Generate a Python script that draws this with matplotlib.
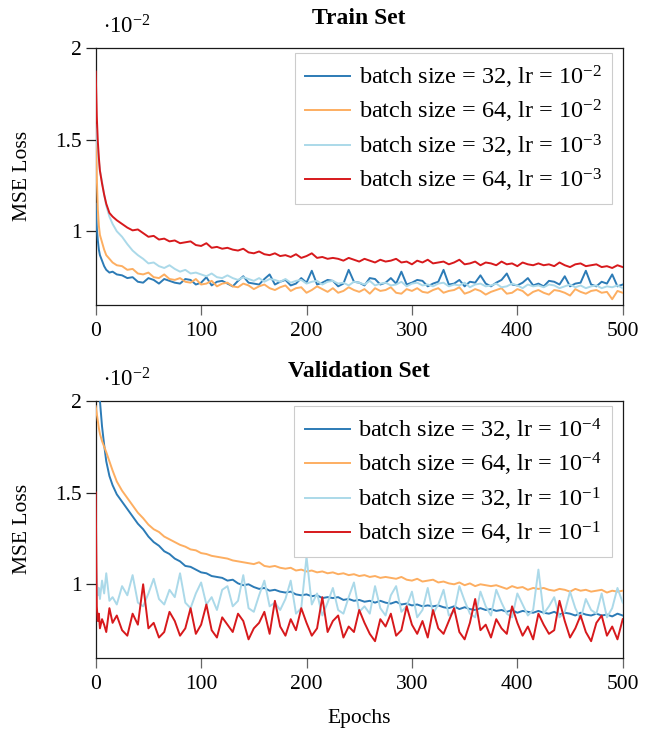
import matplotlib
matplotlib.use('Agg')
from matplotlib import pyplot as plt

plt.rcParams['font.family'] = ['Liberation Serif', 'DejaVu Serif']
plt.rcParams['mathtext.fontset'] = 'custom'
plt.rcParams['mathtext.rm'] = 'Liberation Serif'
plt.rcParams['mathtext.it'] = 'Liberation Serif:italic'
plt.rcParams['mathtext.bf'] = 'Liberation Serif:bold'

epochs = [0, 1, 2, 3, 4, 6, 8, 10, 13, 16, 20] + list(range(25, 501, 5))

# train set, MSE loss in units of 1e-2
train_bs32_lr1e2 = [
    1.15, 1.02, 0.95, 0.90, 0.87, 0.84, 0.81, 0.79, 0.775, 0.78, 0.765,
    0.76, 0.745, 0.75, 0.725, 0.72, 0.745, 0.735, 0.715, 0.74, 0.73,
    0.72, 0.715, 0.74, 0.735, 0.71, 0.72, 0.75, 0.705, 0.725, 0.73,
    0.715, 0.70, 0.73, 0.755, 0.72, 0.715, 0.71, 0.74, 0.765, 0.71,
    0.725, 0.735, 0.705, 0.715, 0.745, 0.72, 0.785, 0.71, 0.72, 0.735,
    0.73, 0.70, 0.715, 0.79, 0.725, 0.72, 0.705, 0.745, 0.74, 0.71,
    0.72, 0.745, 0.715, 0.78, 0.71, 0.72, 0.735, 0.73, 0.70, 0.715,
    0.725, 0.79, 0.71, 0.715, 0.735, 0.70, 0.725, 0.72, 0.76, 0.715,
    0.70, 0.72, 0.735, 0.77, 0.71, 0.705, 0.72, 0.745, 0.705, 0.715,
    0.70, 0.73, 0.725, 0.71, 0.755, 0.70, 0.715, 0.72, 0.785, 0.71,
    0.70, 0.725, 0.715, 0.765, 0.70, 0.71]
train_bs64_lr1e2 = [
    1.55, 1.30, 1.12, 1.03, 0.98, 0.94, 0.90, 0.87, 0.85, 0.83, 0.815,
    0.81, 0.79, 0.795, 0.77, 0.765, 0.775, 0.75, 0.745, 0.765, 0.74,
    0.735, 0.745, 0.725, 0.72, 0.74, 0.71, 0.715, 0.73, 0.70, 0.715,
    0.72, 0.70, 0.695, 0.715, 0.705, 0.685, 0.70, 0.71, 0.69, 0.68,
    0.695, 0.705, 0.675, 0.69, 0.695, 0.665, 0.68, 0.70, 0.685, 0.67,
    0.69, 0.665, 0.675, 0.695, 0.68, 0.67, 0.685, 0.66, 0.69, 0.675,
    0.68, 0.695, 0.665, 0.66, 0.685, 0.675, 0.69, 0.67, 0.665, 0.68,
    0.69, 0.665, 0.675, 0.68, 0.695, 0.66, 0.67, 0.685, 0.675, 0.655,
    0.67, 0.68, 0.69, 0.66, 0.665, 0.685, 0.675, 0.65, 0.67, 0.68,
    0.665, 0.655, 0.68, 0.675, 0.665, 0.65, 0.685, 0.67, 0.66, 0.675,
    0.68, 0.665, 0.67, 0.63, 0.675, 0.665]
train_bs32_lr1e3 = [
    1.58, 1.50, 1.44, 1.38, 1.33, 1.27, 1.20, 1.14, 1.08, 1.04, 1.00,
    0.97, 0.93, 0.895, 0.87, 0.85, 0.825, 0.83, 0.81, 0.80, 0.815,
    0.795, 0.78, 0.79, 0.77, 0.775, 0.765, 0.755, 0.77, 0.75, 0.745,
    0.76, 0.745, 0.735, 0.75, 0.74, 0.73, 0.745, 0.725, 0.74, 0.735,
    0.725, 0.74, 0.72, 0.73, 0.735, 0.715, 0.725, 0.73, 0.71, 0.725,
    0.73, 0.715, 0.72, 0.705, 0.725, 0.72, 0.71, 0.73, 0.705, 0.715,
    0.72, 0.705, 0.71, 0.725, 0.70, 0.715, 0.72, 0.705, 0.71, 0.70,
    0.715, 0.72, 0.70, 0.71, 0.705, 0.72, 0.695, 0.71, 0.715, 0.70,
    0.705, 0.715, 0.695, 0.70, 0.715, 0.705, 0.69, 0.71, 0.70, 0.705,
    0.695, 0.71, 0.705, 0.69, 0.70, 0.71, 0.695, 0.705, 0.69, 0.70,
    0.705, 0.69, 0.70, 0.695, 0.705, 0.69]
train_bs64_lr1e3 = [
    1.87, 1.63, 1.49, 1.40, 1.33, 1.26, 1.20, 1.15, 1.10, 1.08, 1.06,
    1.04, 1.02, 1.005, 1.01, 0.99, 0.97, 0.975, 0.955, 0.96, 0.945,
    0.95, 0.935, 0.94, 0.945, 0.925, 0.92, 0.935, 0.91, 0.915, 0.905,
    0.91, 0.90, 0.895, 0.905, 0.885, 0.88, 0.89, 0.875, 0.87, 0.88,
    0.865, 0.87, 0.86, 0.875, 0.855, 0.865, 0.88, 0.855, 0.86, 0.85,
    0.855, 0.85, 0.84, 0.855, 0.845, 0.835, 0.85, 0.84, 0.83, 0.845,
    0.835, 0.84, 0.85, 0.83, 0.835, 0.82, 0.84, 0.83, 0.845, 0.825,
    0.83, 0.835, 0.82, 0.83, 0.845, 0.82, 0.825, 0.835, 0.815, 0.83,
    0.825, 0.815, 0.835, 0.82, 0.825, 0.81, 0.83, 0.82, 0.815, 0.825,
    0.815, 0.82, 0.81, 0.83, 0.815, 0.805, 0.82, 0.825, 0.81, 0.815,
    0.82, 0.805, 0.81, 0.80, 0.815, 0.805]

# validation set, MSE loss in units of 1e-2
val_bs32_lr1e4 = [
    2.45, 2.30, 2.17, 2.07, 2.00, 1.86, 1.76, 1.67, 1.59, 1.54, 1.49,
    1.45, 1.41, 1.37, 1.33, 1.30, 1.26, 1.23, 1.21, 1.18, 1.165,
    1.14, 1.125, 1.10, 1.095, 1.08, 1.065, 1.06, 1.045, 1.04, 1.035,
    1.02, 1.025, 1.005, 0.995, 1.0, 0.985, 0.975, 0.98, 0.965, 0.97,
    0.96, 0.955, 0.96, 0.945, 0.94, 0.945, 0.935, 0.94, 0.925, 0.93,
    0.925, 0.93, 0.915, 0.92, 0.91, 0.915, 0.905, 0.91, 0.90, 0.91,
    0.90, 0.895, 0.905, 0.89, 0.895, 0.885, 0.89, 0.88, 0.885, 0.88,
    0.885, 0.875, 0.87, 0.88, 0.865, 0.875, 0.865, 0.86, 0.87, 0.86,
    0.865, 0.855, 0.86, 0.85, 0.86, 0.845, 0.855, 0.85, 0.845, 0.855,
    0.845, 0.84, 0.85, 0.835, 0.845, 0.84, 0.83, 0.845, 0.835, 0.83,
    0.84, 0.83, 0.835, 0.825, 0.84, 0.83]
val_bs64_lr1e4 = [
    1.97, 1.93, 1.89, 1.85, 1.82, 1.78, 1.75, 1.72, 1.67, 1.62, 1.56,
    1.51, 1.47, 1.43, 1.39, 1.36, 1.325, 1.30, 1.285, 1.26, 1.245,
    1.23, 1.215, 1.205, 1.19, 1.185, 1.17, 1.165, 1.155, 1.15, 1.145,
    1.14, 1.13, 1.125, 1.12, 1.115, 1.11, 1.12, 1.10, 1.095, 1.10,
    1.09, 1.085, 1.09, 1.075, 1.08, 1.07, 1.075, 1.065, 1.07, 1.06,
    1.065, 1.055, 1.06, 1.05, 1.055, 1.045, 1.05, 1.04, 1.045, 1.035,
    1.04, 1.035, 1.03, 1.04, 1.025, 1.02, 1.03, 1.015, 1.02, 1.025,
    1.01, 1.015, 1.005, 1.0, 1.01, 0.995, 1.005, 0.99, 1.0, 0.995,
    0.99, 0.995, 0.985, 0.975, 0.99, 0.98, 0.985, 0.97, 0.98, 0.975,
    0.98, 0.97, 0.965, 0.975, 0.97, 0.96, 0.975, 0.965, 0.97, 0.96,
    0.965, 0.97, 0.955, 0.965, 0.96, 0.965]
val_bs32_lr1e1 = [
    1.12, 1.03, 0.94, 0.98, 0.92, 1.02, 0.95, 1.06, 0.91, 0.93, 0.89,
    0.99, 0.94, 1.05, 0.90, 0.88, 0.95, 1.03, 0.92, 0.89, 0.97,
    0.93, 1.06, 0.90, 0.87, 0.95, 1.01, 0.89, 0.93, 0.86, 0.97,
    0.99, 0.88, 0.91, 1.05, 0.87, 0.85, 0.94, 1.02, 0.88, 0.90,
    0.86, 0.92, 1.02, 0.84, 0.87, 1.15, 0.89, 0.95, 0.83, 0.90,
    0.98, 0.86, 0.84, 0.93, 1.01, 0.85, 0.88, 0.84, 0.99, 0.87,
    0.83, 0.94, 0.99, 0.85, 0.88, 0.96, 0.82, 0.86, 0.98, 0.84,
    0.89, 0.97, 0.83, 0.85, 0.99, 0.91, 0.84, 0.82, 0.96, 0.88,
    0.83, 0.97, 0.90, 0.84, 0.82, 0.95, 0.89, 0.83, 0.86, 1.08,
    0.84, 0.88, 0.93, 0.82, 0.85, 0.96, 0.87, 0.81, 0.92, 0.86,
    0.84, 0.95, 0.82, 0.87, 0.98, 0.90]
val_bs64_lr1e1 = [
    1.50, 0.88, 0.80, 0.84, 0.76, 0.81, 0.78, 0.74, 0.87, 0.79, 0.83,
    0.75, 0.72, 0.84, 0.78, 1.00, 0.76, 0.79, 0.71, 0.74, 0.85,
    0.80, 0.72, 0.76, 0.87, 0.73, 0.78, 0.89, 0.75, 0.71, 0.82,
    0.78, 0.74, 0.84, 0.80, 0.70, 0.76, 0.79, 0.85, 0.73, 0.91,
    0.77, 0.72, 0.81, 0.75, 0.87, 0.79, 0.72, 0.76, 0.93, 0.74,
    0.80, 0.83, 0.71, 0.77, 0.74, 0.86, 0.79, 0.73, 0.69, 0.81,
    0.77, 0.84, 0.72, 0.75, 0.88, 0.78, 0.73, 0.80, 0.71, 0.86,
    0.76, 0.73, 0.80, 0.87, 0.74, 0.70, 0.79, 0.92, 0.75, 0.78,
    0.71, 0.81, 0.76, 0.73, 0.88, 0.79, 0.72, 0.77, 0.70, 0.84,
    0.78, 0.73, 0.75, 0.91, 0.80, 0.71, 0.76, 0.83, 0.74, 0.69,
    0.79, 0.83, 0.72, 0.77, 0.70, 0.81]

colors = ['#2c7bb6', '#fdae61', '#abd9e9', '#d7191c']
train_labels = [r'batch size = 32, lr = $10^{-2}$', r'batch size = 64, lr = $10^{-2}$',
                r'batch size = 32, lr = $10^{-3}$', r'batch size = 64, lr = $10^{-3}$']
val_labels = [r'batch size = 32, lr = $10^{-4}$', r'batch size = 64, lr = $10^{-4}$',
              r'batch size = 32, lr = $10^{-1}$', r'batch size = 64, lr = $10^{-1}$']

fs = 15.5
fig = plt.figure(figsize=(6.56, 7.33), dpi=100)
ax1 = fig.add_axes([0.1459, 0.5843, 0.8034, 0.3506])
ax2 = fig.add_axes([0.1459, 0.1027, 0.8034, 0.3506])


def style_axis(ax, title, series, labels):
    # curves drawn above the axis lines, like the original
    for y, c, lab in zip(series, colors, labels):
        ax.plot(epochs, y, color=c, linewidth=1.4, label=lab, zorder=3)
    ax.set_xlim(0, 500)
    ax.set_ylim(0.6, 2.0)
    ax.set_xticks([0, 100, 200, 300, 400, 500])
    ax.set_yticks([1, 1.5, 2])
    ax.set_yticklabels(['1', '1.5', '2'])
    ax.tick_params(axis='x', direction='out', length=7.5, width=0.9,
                   color='#666666', pad=5, labelsize=fs)
    ax.tick_params(axis='y', direction='out', length=7.5, width=0.9,
                   color='#222222', pad=2.5, labelsize=fs)
    for sp in ax.spines.values():
        sp.set_linewidth(0.9)
        sp.set_color('#1a1a1a')
    ax.set_title(title, fontsize=17, fontweight='bold', pad=17)
    ax.text(0.014, 1.035, r'$\cdot10^{-2}$', transform=ax.transAxes,
            fontsize=16.5, ha='left', va='bottom')
    ax.set_ylabel('MSE Loss', fontsize=fs, va='center')
    ax.yaxis.set_label_coords(-0.138, 0.5)
    leg = ax.legend(loc='upper right', bbox_to_anchor=(0.979, 0.978),
                    borderaxespad=0, fontsize=17.5, frameon=True, fancybox=False,
                    edgecolor='#cccccc', framealpha=1, handlelength=1.85,
                    handletextpad=0.35, labelspacing=0.3, borderpad=0.42)
    leg.get_frame().set_linewidth(0.8)
    leg.set_zorder(5)


style_axis(ax1, 'Train Set',
           [train_bs32_lr1e2, train_bs64_lr1e2, train_bs32_lr1e3, train_bs64_lr1e3],
           train_labels)
style_axis(ax2, 'Validation Set',
           [val_bs32_lr1e4, val_bs64_lr1e4, val_bs32_lr1e1, val_bs64_lr1e1],
           val_labels)

ax2.set_xlabel('Epochs', fontsize=fs, va='center')
ax2.xaxis.set_label_coords(0.5, -0.235)

plt.savefig('out.png', dpi=100)
